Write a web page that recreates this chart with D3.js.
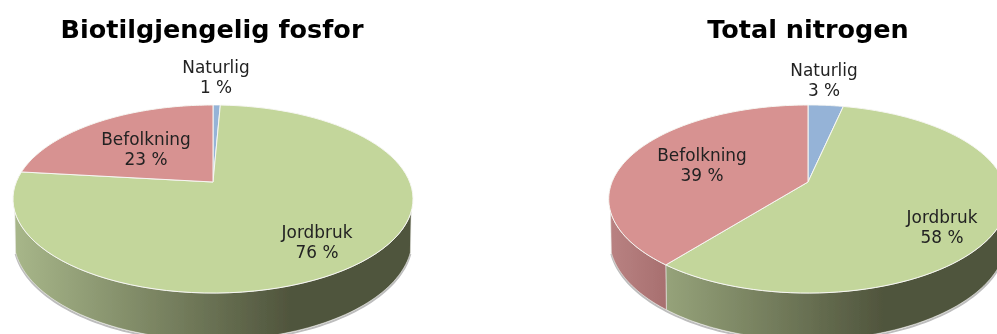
<!DOCTYPE html>
<html><head><meta charset="utf-8">
<script src="https://cdn.jsdelivr.net/npm/d3@7"></script>
<style>html,body{margin:0;padding:0;background:#fff}svg{display:block}text{font-family:"DejaVu Sans",sans-serif}</style>
</head><body><svg id="c" width="997" height="334"></svg>
<script>
const categories=["Naturlig","Jordbruk","Befolkning"];
const titles=["Biotilgjengelig fosfor","Total nitrogen"];
const fosforValues=[0.7,76.1,23.2];
const nitrogenValues=[3.4,57.3,39.3];
const fosforLabels=["1 %","76 %","23 %"];
const nitrogenLabels=["3 %","58 %","39 %"];
const colors=["#95B3D7","#C3D69B","#D79291"];
const wallLight=["#7F95B0","#A8B78A","#B98282"];
const wallDark=["#5A6A80","#50553D","#A87070"];

const svg=d3.select("#c");
const defs=svg.append("defs");
const blur=defs.append("filter").attr("id","soft").attr("x","-5%").attr("y","-5%").attr("width","110%").attr("height","110%");
blur.append("feGaussianBlur").attr("stdDeviation",0.5);
const root=svg.append("g").attr("filter","url(#soft)");

const pies=[
 {id:"a",cx:213,title:titles[0],tx:212,values:fosforValues,labels:fosforLabels,R:196.7,
  pos:[[216,67],[317,232],[146,139]],grad:[13,290]},
 {id:"b",cx:808,title:titles[1],tx:808,values:nitrogenValues,labels:nitrogenLabels,R:196,
  pos:[[824,70],[942,217],[702,155]],grad:[609,883]}
];
const c=-0.181,a=58,b=182,depth=38.5,bottomScale=0.996;
const pieGen=d3.pie().sort(null).value(d=>d);
const line=d3.line().x(d=>d[0]).y(d=>d[1]);

pies.forEach(p=>{
 const proj=(phi,off=0)=>{
  const u=Math.sin(phi),v=-Math.cos(phi),w=1+c*v,r=off?p.R*bottomScale:p.R;
  return [p.cx+r*u/w,(a*v+b+off)/w];
 };
 const arcPts=(s,e,off)=>d3.range(0,1.0001,1/90).map(t=>proj(s+(e-s)*t,off));
 const arcs=pieGen(p.values);
 const minVis=108*Math.PI/180,maxVis=252*Math.PI/180;
 const g=root.append("g");
 g.append("path").attr("d",line(arcPts(minVis,maxVis,depth+1.2))).attr("fill","none").attr("stroke","#bdbdbd").attr("stroke-width",2);
 arcs.forEach((d,i)=>{
  const s=Math.max(d.startAngle,minVis),e=Math.min(d.endAngle,maxVis);
  if(e<=s)return;
  const gid=`w${p.id}${i}`;
  const lg=defs.append("linearGradient").attr("id",gid).attr("gradientUnits","userSpaceOnUse")
   .attr("x1",i===2&&p.id==="b"?p.cx-199:p.grad[0]).attr("x2",i===2&&p.id==="b"?p.cx-143:p.grad[1]).attr("y1",0).attr("y2",0);
  lg.append("stop").attr("offset",0).attr("stop-color",wallLight[i]);
  lg.append("stop").attr("offset",1).attr("stop-color",wallDark[i]);
  const pts=arcPts(s,e,0).concat(arcPts(s,e,depth).reverse());
  g.append("path").attr("d",line(pts)+"Z").attr("fill",`url(#${gid})`).attr("stroke","#e8e8e2").attr("stroke-width",0.6);
 });
 arcs.forEach((d,i)=>{
  const pts=[[p.cx,b]].concat(arcPts(d.startAngle,d.endAngle,0));
  g.append("path").attr("d",line(pts)+"Z").attr("fill",colors[i]).attr("stroke","#f6f6f2").attr("stroke-width",1);
 });
 root.append("text").attr("x",p.tx).attr("y",38).attr("text-anchor","middle")
  .attr("font-size",25.5).attr("font-weight","bold").attr("fill","#000").text(p.title);
 categories.forEach((n,i)=>{
  const t=root.append("text").attr("text-anchor","middle").attr("font-size",16.9).attr("fill","#222");
  t.append("tspan").attr("x",p.pos[i][0]).attr("y",p.pos[i][1]+6).text(n);
  t.append("tspan").attr("x",p.pos[i][0]).attr("y",p.pos[i][1]+26).text(p.labels[i]);
 });
});
</script></body></html>
